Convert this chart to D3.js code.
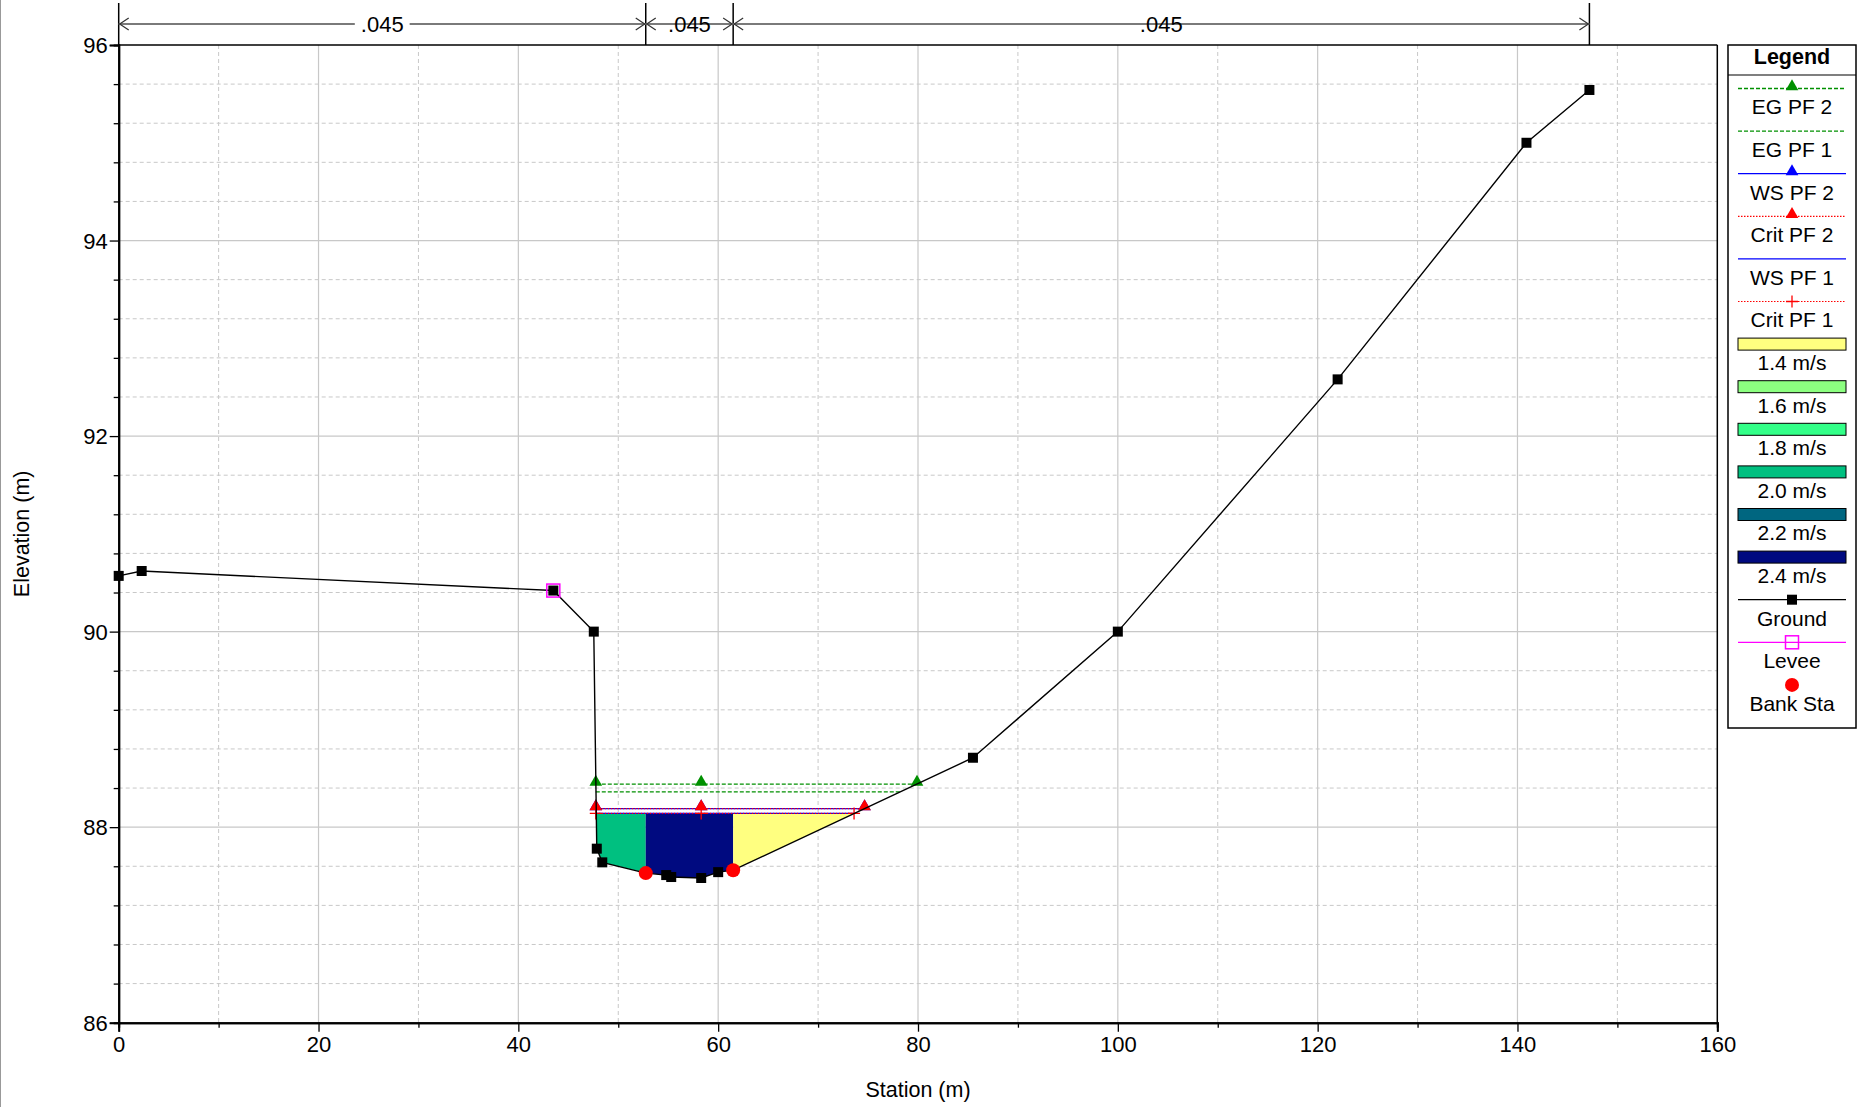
<!DOCTYPE html>
<html>
<head>
<meta charset="utf-8">
<script src="https://cdn.jsdelivr.net/npm/d3@7"></script>
<style>
  html, body { margin: 0; padding: 0; background: #fff; }
  svg { display: block; font-family: "Liberation Sans", Arial, sans-serif; }
</style>
</head>
<body>
<svg id="chart" width="1865" height="1107"></svg>
<script>
// ---------------- DATA ----------------
const groundStation = [0, 2.3, 43.5, 47.55, 47.85, 48.4, 52.75, 54.8, 55.3, 58.3, 60.0, 61.5, 85.5, 100.0, 122.0, 140.9, 147.2];
const groundElev    = [90.57, 90.62, 90.42, 90.0, 87.78, 87.64, 87.53, 87.51, 87.49, 87.48, 87.54, 87.56, 88.71, 90.0, 92.58, 95.0, 95.54];

const leveeStation = [43.5];
const leveeElev = [90.42];

const bankStation = [52.75, 61.5];
const bankElev = [87.53, 87.56];

// water surface profiles: name, elevation, start, end
const profileNames = ["EG PF 2", "EG PF 1", "WS PF 2", "Crit PF 2", "WS PF 1", "Crit PF 1"];
const profileElev  = [88.44, 88.36, 88.19, 88.19, 88.14, 88.14];
const profileStart = [47.75, 47.75, 47.75, 47.75, 47.75, 47.75];
const profileEnd   = [79.9, 78.2, 74.65, 74.65, 73.6, 73.6];
const profileMarkerStations = [[47.75, 58.3, 79.9], [], [47.75, 58.3, 74.65], [47.75, 58.3, 74.65], [], [47.75, 58.3, 73.6]];

// velocity distribution sections (WS PF 1)
const velFrom = [47.75, 52.75, 61.5];
const velTo   = [52.75, 61.5, 73.6];
const velValue = [2.0, 2.4, 1.4];

// velocity legend
const velLegendLabels = ["1.4 m/s", "1.6 m/s", "1.8 m/s", "2.0 m/s", "2.2 m/s", "2.4 m/s"];
const velLegendValues = [1.4, 1.6, 1.8, 2.0, 2.2, 2.4];
const velLegendColors = ["#ffff80", "#8cff80", "#33ff88", "#00c080", "#006680", "#000a80"];

// Manning's n annotation
const roughStations = [0, 52.75, 61.5, 147.2];
const roughLabels = [".045", ".045", ".045"];

// axes
const xTicksMajor = [0, 20, 40, 60, 80, 100, 120, 140, 160];
const yTicksMajor = [86, 88, 90, 92, 94, 96];

// ---------------- LAYOUT ----------------
const svg = d3.select("#chart");
const L = 118.7, T = 45, R = 1717.3, B = 1022.7;
const x = d3.scaleLinear().domain([0, 160]).range([L, R]);
const y = d3.scaleLinear().domain([86, 96]).range([B, T]);

svg.append("rect").attr("width", 1865).attr("height", 1107).attr("fill", "#fff");
// left frame edge
svg.append("line").attr("x1", 0.5).attr("x2", 0.5).attr("y1", 0).attr("y2", 1107).attr("stroke", "#999").attr("stroke-width", 1);

const gridColor = "#c8c8c8";
// minor grid
const xMinor = d3.range(10, 160, 20);
const yMinor = d3.range(0, 26).map(i => 86 + i * 0.4).filter(v => Math.abs((v - 86) / 2 - Math.round((v - 86) / 2)) > 1e-6);
svg.append("g").selectAll("line").data(xMinor).join("line")
  .attr("x1", d => x(d)).attr("x2", d => x(d)).attr("y1", T).attr("y2", B)
  .attr("stroke", gridColor).attr("stroke-dasharray", "4,3").attr("stroke-width", 1);
svg.append("g").selectAll("line").data(yMinor).join("line")
  .attr("x1", L).attr("x2", R).attr("y1", d => y(d)).attr("y2", d => y(d))
  .attr("stroke", gridColor).attr("stroke-dasharray", "4,3").attr("stroke-width", 1);
// major grid
svg.append("g").selectAll("line").data(xTicksMajor.slice(1, -1)).join("line")
  .attr("x1", d => x(d)).attr("x2", d => x(d)).attr("y1", T).attr("y2", B)
  .attr("stroke", gridColor).attr("stroke-width", 1.2);
svg.append("g").selectAll("line").data(yTicksMajor.slice(1, -1)).join("line")
  .attr("x1", L).attr("x2", R).attr("y1", d => y(d)).attr("y2", d => y(d))
  .attr("stroke", gridColor).attr("stroke-width", 1.2);

// ---------------- VELOCITY FILL ----------------
const groundInterp = d3.scaleLinear().domain(groundStation).range(groundElev);
const wsFill = profileElev[4];
const velColor = d3.scaleOrdinal().domain(velLegendValues).range(velLegendColors);
velFrom.forEach((s0, i) => {
  const s1 = velTo[i];
  const pts = [[s0, wsFill], [s1, wsFill]];
  const inner = groundStation.filter(s => s > s0 && s < s1);
  const bottom = [s1, ...inner.slice().reverse(), s0];
  bottom.forEach(s => pts.push([s, Math.min(groundInterp(s), wsFill)]));
  svg.append("path")
    .attr("d", d3.line().x(d => x(d[0])).y(d => y(d[1]))(pts) + "Z")
    .attr("fill", velColor(velValue[i])).attr("stroke", "none");
});

// ---------------- PROFILES ----------------
const profStyle = {
  "EG PF 2":  { color: "#009000", dash: "4,2", width: 1.3, marker: "tri" },
  "EG PF 1":  { color: "#009000", dash: "4,2", width: 1.3, marker: null },
  "WS PF 2":  { color: "#0000ff", dash: null,  width: 1.3, marker: "tri" },
  "Crit PF 2":{ color: "#ff0000", dash: "1.5,1.5", width: 1.2, marker: "tri" },
  "WS PF 1":  { color: "#0000ff", dash: null,  width: 1.3, marker: null },
  "Crit PF 1":{ color: "#ff0000", dash: "1.5,1.5", width: 1.2, marker: "plus" }
};
const triPath = d3.symbol().type(d3.symbolTriangle).size(70);
function drawMarker(g, type, cx, cy, color) {
  if (type === "tri") {
    g.append("path").attr("d", triPath()).attr("transform", `translate(${cx},${cy - 2})`).attr("fill", color);
  } else if (type === "plus") {
    g.append("path").attr("d", `M${cx - 6},${cy}H${cx + 6}M${cx},${cy - 6}V${cy + 6}`)
      .attr("stroke", color).attr("stroke-width", 1.3).attr("fill", "none");
  } else if (type === "square") {
    g.append("rect").attr("x", cx - 5).attr("y", cy - 5).attr("width", 10).attr("height", 10).attr("fill", color);
  } else if (type === "opensquare") {
    g.append("rect").attr("x", cx - 6.5).attr("y", cy - 6.5).attr("width", 13).attr("height", 13)
      .attr("fill", "none").attr("stroke", color).attr("stroke-width", 1.5);
  } else if (type === "circle") {
    g.append("circle").attr("cx", cx).attr("cy", cy).attr("r", 7).attr("fill", color);
  }
}
const profG = svg.append("g");
profileNames.forEach((n, i) => {
  const st = profStyle[n];
  profG.append("line")
    .attr("x1", x(profileStart[i])).attr("x2", x(profileEnd[i]))
    .attr("y1", y(profileElev[i])).attr("y2", y(profileElev[i]))
    .attr("stroke", st.color).attr("stroke-width", st.width)
    .attr("stroke-dasharray", st.dash);
});
profileNames.forEach((n, i) => {
  const st = profStyle[n];
  profileMarkerStations[i].forEach(s => drawMarker(profG, st.marker, x(s), y(profileElev[i]), st.color));
});

// ---------------- GROUND ----------------
const groundPts = groundStation.map((s, i) => [s, groundElev[i]]);
svg.append("path").attr("d", d3.line().x(d => x(d[0])).y(d => y(d[1]))(groundPts))
  .attr("fill", "none").attr("stroke", "#000").attr("stroke-width", 1.4);
const gm = svg.append("g");
groundPts.forEach(p => {
  if (!bankStation.includes(p[0])) drawMarker(gm, "square", x(p[0]), y(p[1]), "#000");
});
leveeStation.forEach((s, i) => drawMarker(gm, "opensquare", x(s), y(leveeElev[i]), "#ff00ff"));
bankStation.forEach((s, i) => drawMarker(gm, "circle", x(s), y(bankElev[i]), "#ff0000"));

// ---------------- AXES ----------------
const fr = svg.append("g");
fr.append("line").attr("x1", L).attr("x2", R).attr("y1", T).attr("y2", T).attr("stroke", "#000").attr("stroke-width", 1.5);
fr.append("line").attr("x1", R).attr("x2", R).attr("y1", T).attr("y2", B).attr("stroke", "#000").attr("stroke-width", 1.5);

const xAxis = svg.append("g").attr("transform", `translate(0,${B})`)
  .call(d3.axisBottom(x).tickValues(xTicksMajor).tickSize(9).tickPadding(4).tickFormat(d3.format("d")));
const xAxisMinor = svg.append("g").attr("transform", `translate(0,${B})`)
  .call(d3.axisBottom(x).tickValues(xMinor).tickSize(5).tickFormat(""));
const yAxis = svg.append("g").attr("transform", `translate(${L},0)`)
  .call(d3.axisLeft(y).tickValues(yTicksMajor).tickSize(9).tickPadding(2).tickFormat(d3.format("d")));
const yAxisMinor = svg.append("g").attr("transform", `translate(${L},0)`)
  .call(d3.axisLeft(y).tickValues(yMinor).tickSize(5).tickFormat(""));
[xAxis, yAxis, xAxisMinor, yAxisMinor].forEach(a => {
  a.select(".domain").attr("stroke", "#000").attr("stroke-width", 2);
  a.selectAll(".tick line").attr("stroke", "#000").attr("stroke-width", 1.3);
  a.selectAll("text").attr("font-size", 22).attr("fill", "#000")
    .attr("font-family", '"Liberation Sans", Arial, sans-serif');
});
xAxis.selectAll("text").attr("dy", "0.75em");
yAxis.selectAll("text").attr("dy", "0.35em");

svg.append("text").attr("x", (L + R) / 2).attr("y", 1097).attr("text-anchor", "middle")
  .attr("font-size", 21.5).text("Station (m)");
svg.append("text").attr("transform", `translate(29,${(T + B) / 2}) rotate(-90)`).attr("text-anchor", "middle")
  .attr("font-size", 21.5).text("Elevation (m)");

// ---------------- ROUGHNESS ANNOTATION ----------------
const ra = svg.append("g");
const ay = 24;
roughStations.forEach(s => {
  ra.append("line").attr("x1", x(s)).attr("x2", x(s)).attr("y1", 3).attr("y2", T)
    .attr("stroke", "#000").attr("stroke-width", 1.5);
});
roughLabels.forEach((lab, i) => {
  const xa = x(roughStations[i]), xb = x(roughStations[i + 1]);
  const xm = (xa + xb) / 2;
  ra.append("line").attr("x1", xa).attr("x2", xb).attr("y1", ay).attr("y2", ay)
    .attr("stroke", "#7a7a7a").attr("stroke-width", 2);
  ra.append("path").attr("d", `M${xa + 10},${ay - 6}L${xa + 1},${ay}L${xa + 10},${ay + 6}`)
    .attr("fill", "none").attr("stroke", "#333").attr("stroke-width", 1.2);
  ra.append("path").attr("d", `M${xb - 10},${ay - 6}L${xb - 1},${ay}L${xb - 10},${ay + 6}`)
    .attr("fill", "none").attr("stroke", "#333").attr("stroke-width", 1.2);
  const t = ra.append("text").attr("x", xm).attr("y", ay).attr("dy", "0.35em")
    .attr("text-anchor", "middle").attr("font-size", 22).text(lab);
  const bb = t.node().getBBox();
  ra.insert("rect", "text").attr("x", bb.x - 6).attr("y", ay - 4).attr("width", bb.width + 12).attr("height", 8).attr("fill", "#fff");
});

// ---------------- LEGEND ----------------
const lg = svg.append("g");
const LX0 = 1728, LX1 = 1856, LY0 = 45, LY1 = 728;
lg.append("rect").attr("x", LX0).attr("y", LY0).attr("width", LX1 - LX0).attr("height", LY1 - LY0)
  .attr("fill", "#fff").attr("stroke", "#000").attr("stroke-width", 1.5);
lg.append("line").attr("x1", LX0).attr("x2", LX1).attr("y1", 75).attr("y2", 75).attr("stroke", "#000").attr("stroke-width", 1.2);
lg.append("text").attr("x", (LX0 + LX1) / 2).attr("y", 64).attr("text-anchor", "middle")
  .attr("font-size", 21.5).attr("font-weight", "bold").text("Legend");

const legendItems = [];
profileNames.forEach(n => legendItems.push({ name: n, kind: "line", ...profStyle[n] }));
velLegendLabels.forEach((lab, i) => legendItems.push({ name: lab, kind: "rect", color: velLegendColors[i] }));
legendItems.push({ name: "Ground", kind: "line", color: "#000", dash: null, width: 1.3, marker: "square" });
legendItems.push({ name: "Levee", kind: "line", color: "#ff00ff", dash: null, width: 1.3, marker: "opensquare" });
legendItems.push({ name: "Bank Sta", kind: "point", color: "#ff0000", marker: "circle" });

const lx0 = 1738, lx1 = 1846, lcx = (lx0 + lx1) / 2;
legendItems.forEach((it, i) => {
  const ly = 88.5 + i * 42.6;
  if (it.kind === "line") {
    lg.append("line").attr("x1", lx0).attr("x2", lx1).attr("y1", ly).attr("y2", ly)
      .attr("stroke", it.color).attr("stroke-width", it.width).attr("stroke-dasharray", it.dash);
    if (it.marker) drawMarker(lg, it.marker, lcx, ly, it.color);
  } else if (it.kind === "rect") {
    lg.append("rect").attr("x", lx0).attr("y", ly - 6).attr("width", lx1 - lx0).attr("height", 12)
      .attr("fill", it.color).attr("stroke", "#000").attr("stroke-width", 1);
  } else {
    drawMarker(lg, it.marker, lcx, ly, it.color);
  }
  lg.append("text").attr("x", lcx).attr("y", ly + 18.5).attr("dy", "0.35em")
    .attr("text-anchor", "middle").attr("font-size", 21).text(it.name);
});
</script>
</body>
</html>
